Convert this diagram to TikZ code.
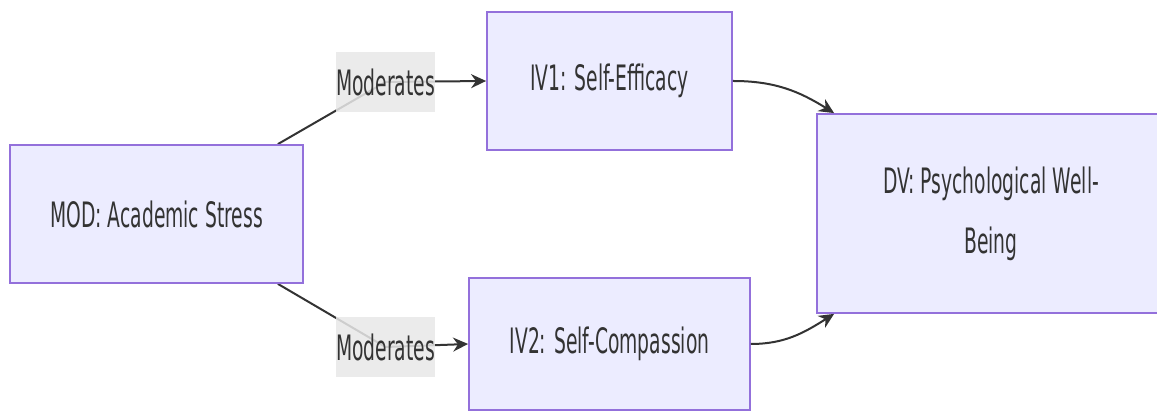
\documentclass[tikz,border=0pt]{standalone}
\usepackage{fontspec}
\setmainfont{DejaVu Sans}[FakeStretch=0.535]
\usetikzlibrary{arrows.meta,backgrounds}
\definecolor{boxfill}{HTML}{ECECFF}
\definecolor{boxline}{HTML}{9370DB}
\definecolor{ink}{HTML}{333333}
\definecolor{lblbg}{HTML}{E8E8E8}

\begin{document}
\begin{tikzpicture}[x=0.5pt,y=-0.5pt,>=Stealth,
  every node/.style={font=\fontsize{17.5}{30}\selectfont,text=ink},
  var/.style={draw=boxline,fill=boxfill,line width=0.9pt,inner sep=0pt,align=center},
  lbl/.style={fill=lblbg,fill opacity=0.85,text opacity=1,inner sep=0pt,minimum width=49.5pt,minimum height=30pt},
  edge/.style={draw=ink,line width=1pt},
  tip/.style={-{Stealth[length=7.5pt,width=7pt]}}]
  \useasboundingbox (0,0) rectangle (1157,415);
  \clip (0,0) rectangle (1157,415);
  % variables
  \node[var,minimum width=146.5pt,minimum height=69pt] (mod) at (156.5,214) {MOD: Academic Stress};
  \node[var,minimum width=122.5pt,minimum height=69pt] (iv1) at (609.5,81) {IV1: Self-Efficacy};
  \node[var,minimum width=140.5pt,minimum height=66pt] (iv2) at (609.5,344) {IV2: Self-Compassion};
  \node[var,minimum width=174pt,minimum height=99.5pt] (dv) at (991,213.5) {DV: Psychological Well-\\Being};
  % edge labels
  \node[lbl] (m1) at (385.5,82) {Moderates};
  \node[lbl] (m2) at (385.5,347) {Moderates};
  \begin{scope}[on background layer]
    \draw[edge,tip] ([xshift=-13pt]mod.north east) -- (m1.center) -- (iv1.west);
    \draw[edge,tip] ([xshift=-13pt]mod.south east) -- (m2.center) -- (iv2.west);
  \end{scope}
  \draw[edge,tip] (iv1.east) to[out=0,in=148] ([xshift=9pt]dv.north west);
  \draw[edge,tip] (iv2.east) to[out=0,in=212] ([xshift=9pt]dv.south west);
\end{tikzpicture}
\end{document}
